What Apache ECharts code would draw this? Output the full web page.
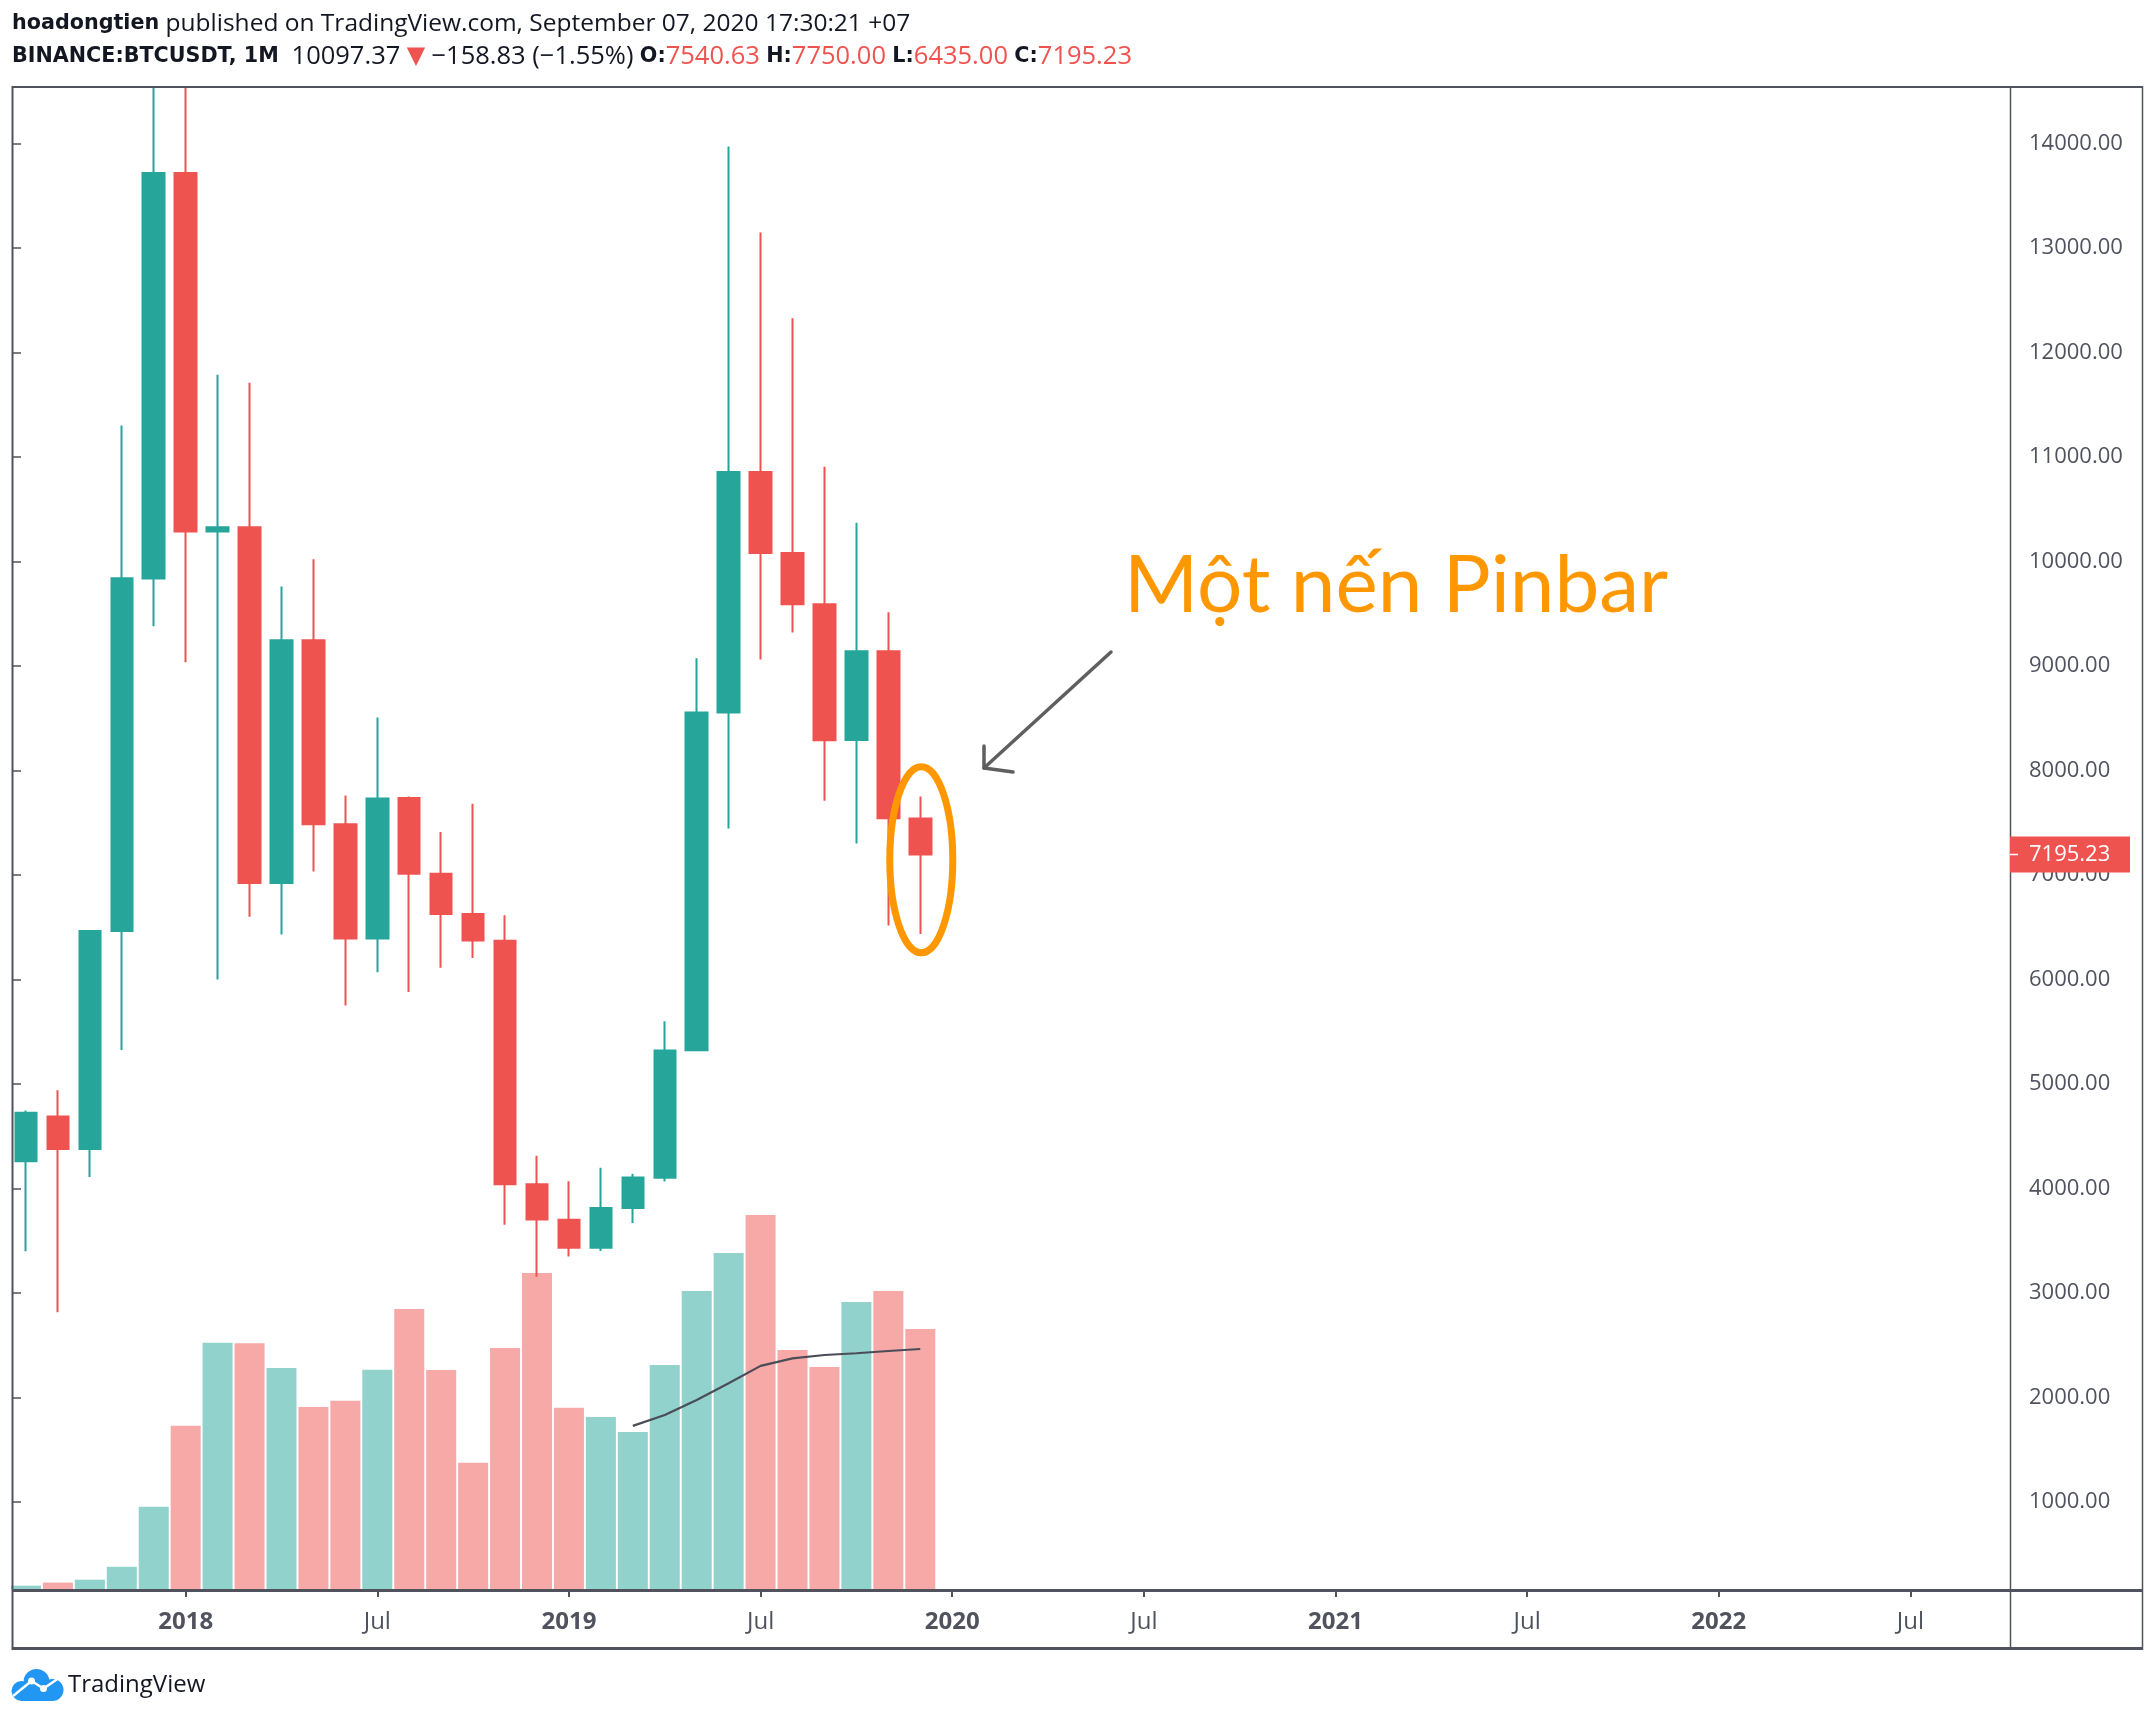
<!DOCTYPE html>
<html>
<head>
<meta charset="utf-8">
<script src="https://cdn.jsdelivr.net/npm/echarts@6/dist/echarts.min.js"></script>
<style>
html,body{margin:0;padding:0;background:#ffffff;}
#c{width:2156px;height:1722px;}
</style>
</head>
<body>
<div id="c"></div>
<script>
// ---------------- DATA ----------------
const months = ['2017-08','2017-09','2017-10','2017-11','2017-12',
  '2018-01','2018-02','2018-03','2018-04','2018-05','2018-06','2018-07','2018-08','2018-09','2018-10','2018-11','2018-12',
  '2019-01','2019-02','2019-03','2019-04','2019-05','2019-06','2019-07','2019-08','2019-09','2019-10','2019-11','2019-12'];
const opens  = [4261.48,4689.89,4378.49,6463.00,9837.00,13715.65,10285.10,10325.64,6922.00,9246.01,7485.01,6391.08,7735.67,7011.21,6626.57,6369.52,4041.27,3701.23,3434.10,3814.26,4102.44,5321.94,8555.00,10854.10,10080.53,9588.74,8289.97,9140.86,7540.63];
const closes = [4724.89,4378.51,6463.00,9838.96,13716.36,10285.10,10326.76,6923.91,9246.01,7485.01,6391.08,7730.93,7011.21,6626.57,6371.93,4041.32,3702.90,3434.10,3813.69,4105.40,5320.81,8555.00,10854.10,10080.53,9588.74,8289.34,9140.85,7541.89,7195.23];
const lows   = [3400.00,2817.00,4110.00,5325.01,9380.00,9035.00,6000.01,6600.10,6430.00,7032.95,5750.00,6070.00,5880.00,6111.00,6205.00,3652.66,3156.26,3349.92,3400.82,3670.69,4067.00,5316.20,7444.58,9060.00,9320.00,7710.00,7300.00,6515.00,6435.00];
const highs  = [4745.42,4939.19,6470.00,11300.03,19798.68,17176.24,11786.01,11710.00,9759.82,10020.00,7760.04,8506.99,7750.00,7410.00,7680.00,6615.15,4312.99,4069.80,4198.00,4140.00,5600.00,9074.26,13970.00,13147.08,12325.00,10905.87,10370.00,9513.68,7750.00];
// volume, thousand BTC
const volumes = [15,29,42,100,370,735,1108,1106,995,819,847,987,1260,986,568,1085,1422,816,774,707,1008,1341,1512,1683,1076,999,1292,1341,1170];
// 20-period volume moving average
const volumeMA20 = [null,null,null,null,null,null,null,null,null,null,null,null,null,null,null,null,null,null,null,
  734,783,851,926,1004,1038,1053,1061,1071,1080];
const priceTicks = [1000,2000,3000,4000,5000,6000,7000,8000,9000,10000,11000,12000,13000,14000];
const axisStart = '2017-08';
const axisMonthCount = 63;     // visible time range on the x axis (to 2022-10)
const lastPrice = 7195.23;
const priceMin = 168, priceMax = 14529;
const volumeMax = 6755;

// ---------------- BUILD ----------------
const axisMonths = [];
{
  let y = +axisStart.slice(0,4), m = +axisStart.slice(5,7);
  for (let i = 0; i < axisMonthCount; i++) {
    axisMonths.push(y + '-' + String(m).padStart(2,'0'));
    m++; if (m > 12) { m = 1; y++; }
  }
}
const UP = '#26a69a', DOWN = '#ef5350';
const UP_V = 'rgba(38,166,154,0.5)', DOWN_V = 'rgba(239,83,80,0.5)';
const AX = '#50535e';
const isTickMonth = (idx) => { const mm = axisMonths[idx].slice(5); return mm === '01' || mm === '07'; };

const candleData = months.map((m,i) => [opens[i], closes[i], lows[i], highs[i]]);
const volData = months.map((m,i) => ({ value: volumes[i], itemStyle: { color: closes[i] >= opens[i] ? UP_V : DOWN_V } }));

const chart = echarts.init(document.getElementById('c'), null, { renderer: 'canvas' });

const option = {
  animation: false,
  backgroundColor: '#ffffff',
  grid: [
    { left: 10, right: 133.8, top: 88, bottom: 133 },
    { left: 13, right: 146, top: 88, bottom: 133 }
  ],
  xAxis: [
    {
      type: 'category', gridIndex: 0, data: axisMonths, boundaryGap: true,
      axisLine: { show: false },
      axisTick: { show: true, alignWithLabel: true, interval: isTickMonth, length: 8, lineStyle: { color: AX, width: 2 } },
      axisLabel: {
        interval: isTickMonth, margin: 21,
        formatter: (v) => v.endsWith('-01') ? '{y|' + v.slice(0,4) + '}' : '{m|Jul}',
        rich: {
          y: { fontFamily: 'Open Sans', fontWeight: 'bold', fontSize: 24, color: AX, lineHeight: 24 },
          m: { fontFamily: 'Open Sans', fontSize: 24, color: AX, lineHeight: 24 }
        }
      },
      splitLine: { show: false }
    },
    { type: 'value', gridIndex: 1, show: false, min: 0, max: 1 }
  ],
  yAxis: [
    { type: 'value', gridIndex: 0, min: priceMin, max: priceMax, show: false },
    { type: 'value', gridIndex: 0, min: 0, max: volumeMax, show: false },
    {
      type: 'value', gridIndex: 1, position: 'right', min: priceMin, max: priceMax,
      axisLine: { show: false }, splitLine: { show: false },
      axisTick: { show: true, customValues: priceTicks, length: 8, lineStyle: { color: AX, width: 1.5 } },
      axisLabel: { customValues: priceTicks, formatter: (v) => Number(v).toFixed(2), margin: 19,
        fontFamily: 'Open Sans', fontSize: 22, color: AX }
    }
  ],
  series: [
    {
      type: 'bar', name: 'Volume', xAxisIndex: 0, yAxisIndex: 1, data: volData,
      barWidth: 30, z: 1, silent: true
    },
    {
      type: 'line', name: 'Volume MA', xAxisIndex: 0, yAxisIndex: 1, data: volumeMA20,
      symbol: 'none', lineStyle: { color: '#4a4d57', width: 2.2 }, z: 2, silent: true
    },
    {
      type: 'candlestick', name: 'BTCUSDT', xAxisIndex: 0, yAxisIndex: 0, data: candleData,
      barWidth: 22, clip: true, z: 3,
      itemStyle: { color: UP, color0: DOWN, borderColor: UP, borderColor0: DOWN, borderWidth: 2 }
    }
  ]
};
chart.setOption(option);

// ---------------- DECORATION ----------------
const lastIdx = months.length - 1;
const lastX = chart.convertToPixel({ xAxisIndex: 0 }, months[lastIdx]);
const ellipseCenterY = chart.convertToPixel({ yAxisIndex: 0 }, 7145);
const lastY = chart.convertToPixel({ yAxisIndex: 0 }, lastPrice);

const FF = 'Open Sans';
const HS = 24.5;
const header1 = '{b|hoadongtien} published on TradingView.com, September 07, 2020 17:30:21 +07';
const header2 = '{b|BINANCE:BTCUSDT, 1M}  {n|10097.37} {t|▼} {n|−158.83 (−1.55%)} {b|O:}{r|7540.63} {b|H:}{r|7750.00} {b|L:}{r|6435.00} {b|C:}{r|7195.23}';
const headRich = {
  b: { fontFamily: 'DejaVu Sans', fontWeight: 'bold', fontSize: 20.7, fill: '#131722' },
  n: { fontFamily: FF, fontSize: 25.5, fill: '#131722' },
  r: { fontFamily: FF, fontSize: 25.5, fill: DOWN },
  t: { fontFamily: 'DejaVu Sans', fontSize: 24, fill: DOWN }
};
const LX = 11.5, LY = 1669;  // logo origin

chart.setOption({
  graphic: [
    // mask above the plot (wicks beyond the top of the pane)
    { type: 'rect', shape: { x: 0, y: 0, width: 2156, height: 86 }, style: { fill: '#ffffff' }, z: 40 },
    // frame
    { type: 'line', shape: { x1: 12, y1: 87, x2: 2143, y2: 87 }, style: { stroke: AX, lineWidth: 2 }, z: 50 },
    { type: 'line', shape: { x1: 12.5, y1: 86, x2: 12.5, y2: 1650 }, style: { stroke: AX, lineWidth: 2 }, z: 50 },
    { type: 'line', shape: { x1: 2142.5, y1: 86, x2: 2142.5, y2: 1650 }, style: { stroke: AX, lineWidth: 1.5 }, z: 50 },
    { type: 'line', shape: { x1: 2010.5, y1: 86, x2: 2010.5, y2: 1650 }, style: { stroke: AX, lineWidth: 1.5 }, z: 50 },
    { type: 'line', shape: { x1: 12, y1: 1590.5, x2: 2143, y2: 1590.5 }, style: { stroke: AX, lineWidth: 3 }, z: 50 },
    { type: 'line', shape: { x1: 12, y1: 1648.5, x2: 2143, y2: 1648.5 }, style: { stroke: AX, lineWidth: 3 }, z: 50 },
    // header
    { type: 'text', x: 12, y: 24, style: { text: header1, rich: headRich, fontFamily: FF, fontSize: HS, fill: '#131722', verticalAlign: 'middle' }, z: 50 },
    { type: 'text', x: 12, y: 57, style: { text: header2, rich: headRich, fontFamily: FF, fontSize: HS, fill: '#131722', verticalAlign: 'middle' }, z: 50 },
    // last price label
    { type: 'rect', shape: { x: 2010, y: lastY - 18, width: 120, height: 36 }, style: { fill: DOWN }, z: 60 },
    { type: 'line', shape: { x1: 2010, y1: lastY, x2: 2018, y2: lastY }, style: { stroke: '#ffffff', lineWidth: 1.5 }, z: 61 },
    { type: 'text', x: 2029, y: lastY, style: { text: lastPrice.toFixed(2), fontFamily: FF, fontSize: 22, fill: '#ffffff', verticalAlign: 'middle' }, z: 61 },
    // annotation
    { type: 'ellipse', shape: { cx: lastX + 1, cy: ellipseCenterY, rx: 31.5, ry: 93 }, style: { fill: 'none', stroke: '#ff9800', lineWidth: 7 }, z: 55 },
    { type: 'polyline', shape: { points: [[1111, 652], [984, 768]] }, style: { stroke: '#5f5f5f', lineWidth: 3.5, lineCap: 'round' }, z: 55 },
    { type: 'polyline', shape: { points: [[984, 746], [984, 768], [1013, 772]] }, style: { stroke: '#5f5f5f', lineWidth: 3.5, lineCap: 'round', lineJoin: 'round', fill: 'none' }, z: 55 },
    { type: 'text', x: 1124, y: 586, style: { text: 'Một nến Pinbar', fontFamily: 'Lato', fontSize: 80, fill: '#ff9800', verticalAlign: 'middle' }, z: 55 },
    // TradingView logo (cloud)
    { type: 'circle', shape: { cx: LX + 25, cy: LY + 13, r: 13 }, style: { fill: '#2196f3' }, z: 50 },
    { type: 'circle', shape: { cx: LX + 10, cy: LY + 22, r: 10 }, style: { fill: '#2196f3' }, z: 50 },
    { type: 'circle', shape: { cx: LX + 41, cy: LY + 21, r: 11 }, style: { fill: '#2196f3' }, z: 50 },
    { type: 'rect', shape: { x: LX + 10, y: LY + 18, width: 31, height: 14 }, style: { fill: '#2196f3' }, z: 50 },
    { type: 'polyline', shape: { points: [[LX + 1.5, LY + 27], [LX + 20, LY + 12], [LX + 32, LY + 19.5], [LX + 49, LY + 8]] }, style: { stroke: '#ffffff', lineWidth: 2.5, fill: 'none' }, z: 51 },
    { type: 'circle', shape: { cx: LX + 20, cy: LY + 12, r: 3.5 }, style: { fill: '#ffffff' }, z: 52 },
    { type: 'circle', shape: { cx: LX + 32, cy: LY + 19.5, r: 3.5 }, style: { fill: '#ffffff' }, z: 52 },
    { type: 'text', x: 68, y: 1685, style: { text: 'TradingView', fontFamily: FF, fontSize: 24, fill: '#131722', verticalAlign: 'middle' }, z: 50 }
  ]
});
</script>
</body>
</html>
